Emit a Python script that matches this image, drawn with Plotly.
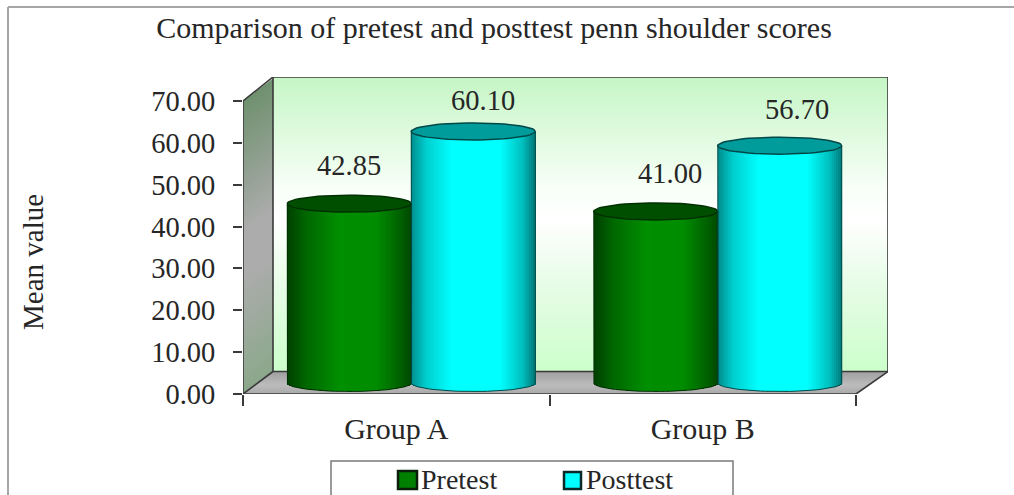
import math
import plotly.graph_objects as go

categories = ["Group A", "Group B"]
pretest = [42.85, 41.00]
posttest = [60.10, 56.70]
y_ticks = [0, 10, 20, 30, 40, 50, 60, 70]
series_names = ["Pretest", "Posttest"]

W, H = 1014, 495
L, R, T, B = 243, 888, 77, 394
PX_X = 306.5            # px per x unit
PX_Y = 293 / 70         # px per y unit
XMAX = (R - L) / PX_X
YMAX = (B - T) / PX_Y
DX, DY = 30 / PX_X, 22.5 / PX_Y      # wall depth
OX, OY = 15 / PX_X, 11 / PX_Y        # cylinder depth offset
HALF_W, HALF_H = 62 / PX_X, 8.5 / PX_Y
FONT = "Liberation Serif"
INK = "#262626"


def px(x):
    return (x - L) / (R - L)


def py(y):
    return (B - y) / (B - T)


def lerp(stops, t):
    for (a, ca), (b, cb) in zip(stops, stops[1:]):
        if t <= b:
            f = (t - a) / (b - a) if b > a else 0
            return "rgb(%d,%d,%d)" % tuple(round(x + (y - x) * f) for x, y in zip(ca, cb))
    return "rgb(%d,%d,%d)" % stops[-1][1]


shapes = []
# back wall
wall = [(0, (198, 246, 198)), (.38, (248, 255, 248)), (.48, (255, 255, 255)), (.72, (230, 252, 230)), (1, (204, 255, 204))]
N = 70
for i in range(N):
    t = i / (N - 1)
    y1 = YMAX - (YMAX - DY) * i / N
    y0 = YMAX - (YMAX - DY) * (i + 1.6) / N
    shapes.append(dict(type="rect", layer="below", xref="x", yref="y", x0=DX, x1=XMAX, y0=max(y0, DY), y1=y1,
                       line_width=0, fillcolor=lerp(wall, t)))
# left wall
side = [(0, (112, 145, 112)), (.45, (172, 172, 172)), (.6, (172, 172, 172)), (1, (140, 168, 140))]
for i in range(N):
    t = i / (N - 1)
    a = 70 * (1 - i / N)
    b = max(70 * (1 - (i + 1.6) / N), 0)
    shapes.append(dict(type="path", layer="below", xref="x", yref="y", line_width=0, fillcolor=lerp(side, t),
                       path=f"M0,{a} L{DX},{a + DY} L{DX},{b + DY} L0,{b} Z"))
# floor
floor = [(0, (160, 160, 160)), (.6, (190, 188, 190)), (1, (170, 170, 170))]
M = 22
for i in range(M):
    t = i / (M - 1)
    a = DY * (1 - i / M)
    b = max(DY * (1 - (i + 1.6) / M), 0)
    fa = DX * a / DY
    fb = DX * b / DY
    shapes.append(dict(type="path", layer="below", xref="x", yref="y", line_width=0, fillcolor=lerp(floor, t),
                       path=f"M{fa},{a} L{2 + fa},{a} L{2 + fb},{b} L{fb},{b} Z"))
# chart edges
edge = dict(color="#3a3a3a", width=1.6)
for p in [f"M{DX},{DY} L{DX},{YMAX} L{XMAX},{YMAX} L{XMAX},{DY} L{DX},{DY}",
          f"M0,0 L0,70 L{DX},{YMAX}",
          f"M0,0 L{DX},{DY}",
          f"M0,0 L2,0 L{XMAX},{DY}"]:
    shapes.append(dict(type="path", layer="below", xref="x", yref="y", path=p, line=edge))
# outer chart frame and legend frame
frame = dict(color="#a6a6a6", width=2)
shapes.append(dict(type="line", xref="paper", yref="paper", layer="below",
                   x0=px(8), x1=px(W), y0=py(7), y1=py(7), line=frame))
shapes.append(dict(type="line", xref="paper", yref="paper", layer="below",
                   x0=px(8), x1=px(8), y0=py(7), y1=py(H), line=frame))
shapes.append(dict(type="rect", xref="paper", yref="paper", layer="below",
                   x0=px(331), x1=px(733), y0=py(530), y1=py(461),
                   fillcolor="white", line=dict(color="#7a7a7a", width=1.5)))

fig = go.Figure()

GREEN = dict(body=[(0, (0, 62, 0)), (.14, (0, 100, 0)), (.42, (0, 143, 0)), (.72, (0, 140, 0)), (.92, (0, 95, 0)), (1, (0, 70, 0))],
             top="#004f00", line="#003000")
CYAN = dict(body=[(0, (0, 140, 140)), (.12, (0, 205, 205)), (.33, (0, 255, 255)), (.72, (0, 255, 255)), (.9, (0, 190, 190)), (1, (0, 120, 120))],
            top="#009c9c", line="#004848")
S = 62


def cylinder(cx, value, style):
    xs, bases, heights, colors = [], [], [], []
    sw = 2 * HALF_W / S
    for i in range(S):
        t = (i + .5) / S
        u = 2 * t - 1
        bottom = OY - HALF_H * math.sqrt(max(0, 1 - u * u))
        xs.append(cx - HALF_W + sw * (i + .5))
        bases.append(bottom)
        heights.append(value + OY - bottom)
        colors.append(lerp(style["body"], t))
    fig.add_trace(go.Bar(x=xs, y=heights, base=bases, width=sw * 1.25,
                         marker=dict(color=colors, line_width=0), showlegend=False, hoverinfo="skip"))
    th = [math.pi * k / 40 for k in range(41)]
    # side and bottom outline
    ox = [cx - HALF_W] + [cx - HALF_W * math.cos(a) for a in th] + [cx + HALF_W]
    oy = [value + OY] + [OY - HALF_H * math.sin(a) for a in th] + [value + OY]
    fig.add_trace(go.Scatter(x=ox, y=oy, mode="lines", line=dict(color=style["line"], width=1),
                             showlegend=False, hoverinfo="skip"))
    ring = [2 * math.pi * k / 60 for k in range(61)]
    fig.add_trace(go.Scatter(x=[cx + HALF_W * math.cos(a) for a in ring],
                             y=[value + OY + HALF_H * math.sin(a) for a in ring],
                             mode="lines", fill="toself", fillcolor=style["top"],
                             line=dict(color=style["line"], width=1.5), showlegend=False, hoverinfo="skip"))


# horizontal position of each cylinder around the category centre, in px
SERIES_OFFSET = -62 / PX_X
annotations = []
label_dx = [[0, 10], [14, 17]]
label_dy = [[38, 31], [38, 36]]
for i, cat in enumerate(categories):
    centre = i + .5 + OX
    for j, (vals, style) in enumerate([(pretest, GREEN), (posttest, CYAN)]):
        cx = centre + (SERIES_OFFSET if j == 0 else -SERIES_OFFSET)
        cylinder(cx, vals[i], style)
        annotations.append(dict(x=cx, y=vals[i] + OY, xref="x", yref="y", text=f"{vals[i]:.2f}", showarrow=False,
                                xshift=label_dx[i][j], yshift=label_dy[i][j],
                                font=dict(family=FONT, size=28.5, color=INK)))

annotations.append(dict(x=px(33), y=py(262), xref="paper", yref="paper", text="Mean value",
                        xanchor="center", yanchor="middle",
                        textangle=-90, showarrow=False, font=dict(family=FONT, size=29, color=INK)))

# legend keys and names
legend_box = [(398, 417, 471, 489), (564, 581, 472, 489)]
legend_text_x = [421, 586]
for name, color, line, box, tx in zip(series_names, ["#008000", "#00ffff"], ["#0a1f0a", "#0a2a2a"], legend_box, legend_text_x):
    shapes.append(dict(type="rect", xref="paper", yref="paper", x0=px(box[0]), x1=px(box[1]), y0=py(box[3]), y1=py(box[2]),
                       fillcolor=color, line=dict(color=line, width=2.5)))
    annotations.append(dict(x=px(tx), y=py(479), xref="paper", yref="paper", text=name, showarrow=False,
                            xanchor="left", yanchor="middle", xshift=-2, font=dict(family=FONT, size=28, color=INK)))

fig.update_layout(
    width=W, height=H, autosize=False,
    margin=dict(l=L, r=W - R, t=T, b=H - B, pad=0),
    paper_bgcolor="white", plot_bgcolor="rgba(0,0,0,0)",
    barmode="overlay", bargap=0, showlegend=False,
    title=dict(text="Comparison of pretest and posttest penn shoulder scores",
               x=(155 + 833) / 2 / W, xanchor="center", y=1 - 27 / H, yanchor="middle",
               font=dict(family=FONT, size=30, color=INK)),
    xaxis=dict(range=[0, XMAX], tickvals=[i + .5 for i in range(len(categories))], ticktext=categories,
               ticks="", showgrid=False, zeroline=False, showline=False, fixedrange=True,
               ticklabelstandoff=14, tickfont=dict(family=FONT, size=30, color=INK),
               minor=dict(tickvals=list(range(len(categories) + 1)), ticks="outside", ticklen=11, tickwidth=1.5,
                          tickcolor="#3a3a3a", showgrid=False)),
    yaxis=dict(range=[0, YMAX], tickvals=y_ticks, ticktext=[f"{v:.2f}" for v in y_ticks],
               ticks="outside", ticklen=9, tickwidth=1.5, tickcolor="#3a3a3a", showgrid=False, zeroline=False,
               showline=False, fixedrange=True, ticklabelstandoff=12,
               tickfont=dict(family=FONT, size=28.5, color=INK)),
    shapes=shapes,
    annotations=annotations,
)
fig.write_html("out.html", config={"displayModeBar": False},
               post_script="document.body.style.margin='0';document.documentElement.style.overflow='hidden';")
